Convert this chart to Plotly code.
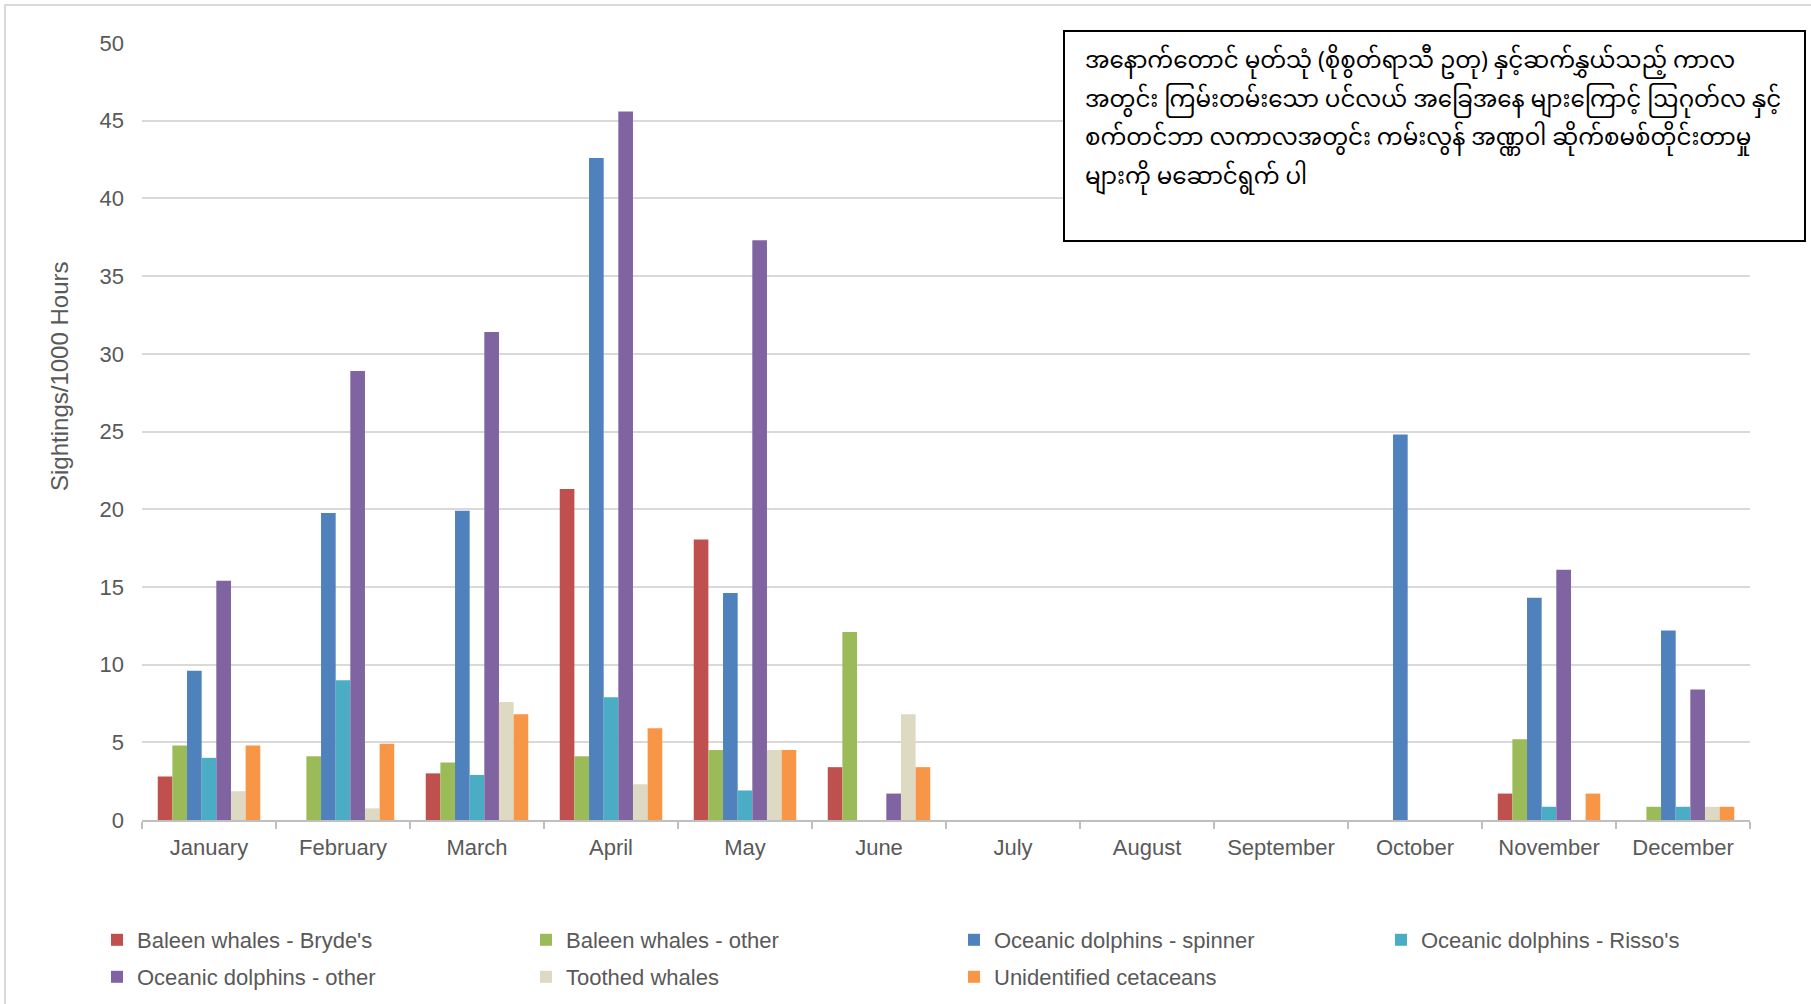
import plotly.graph_objects as go

# Monthly sighting rates (sightings per 1000 survey hours)
months = ["January", "February", "March", "April", "May", "June",
          "July", "August", "September", "October", "November", "December"]

brydes = [2.8, 0, 3.0, 21.3, 18.05, 3.4, None, None, None, 0, 1.7, 0]
baleen_other = [4.8, 4.1, 3.7, 4.1, 4.5, 12.1, None, None, None, 0, 5.2, 0.85]
spinner = [9.6, 19.75, 19.9, 42.6, 14.6, 0, None, None, None, 24.8, 14.3, 12.2]
rissos = [4.0, 9.0, 2.9, 7.9, 1.9, 0, None, None, None, 0, 0.85, 0.85]
dolphins_other = [15.4, 28.9, 31.4, 45.6, 37.3, 1.7, None, None, None, 0, 16.1, 8.4]
toothed = [1.85, 0.75, 7.6, 2.3, 4.5, 6.8, None, None, None, 0, 0, 0.85]
unidentified = [4.8, 4.9, 6.8, 5.9, 4.5, 3.4, None, None, None, 0, 1.7, 0.85]

series_names = ["Baleen whales - Bryde's", "Baleen whales - other",
                "Oceanic dolphins - spinner", "Oceanic dolphins - Risso's",
                "Oceanic dolphins - other", "Toothed whales",
                "Unidentified cetaceans"]
series_values = [brydes, baleen_other, spinner, rissos,
                 dolphins_other, toothed, unidentified]
colors = ["#C0504D", "#9BBB59", "#4F81BD", "#4BACC6",
          "#8064A2", "#DDD9C3", "#F79646"]

y_ticks = [0, 5, 10, 15, 20, 25, 30, 35, 40, 45, 50]

note_lines = [
    "အနောက်တောင် မုတ်သုံ (စိုစွတ်ရာသီ ဥတု) နှင့်ဆက်နွှယ်သည့် ကာလ",
    "အတွင်း ကြမ်းတမ်းသော ပင်လယ် အခြေအနေ များကြောင့် ဩဂုတ်လ နှင့်",
    "စက်တင်ဘာ လကာလအတွင်း ကမ်းလွန် အဏ္ဏဝါ ဆိုက်စမစ်တိုင်းတာမှု",
    "များကို မဆောင်ရွက် ပါ",
]

# page geometry (pixels)
W, H = 1811, 1004
PL, PR, PT, PB = 142, 1750, 43, 820


def px(x):
    return (x - PL) / (PR - PL)


def py(y):
    return (PB - y) / (PB - PT)


TEXT = "#595959"
FONT = "Liberation Sans, Arial, sans-serif"

# legend grid: 4 columns x 2 rows, filled row by row
legend_cols = [137, 566, 994, 1421]
legend_rows = [940, 977]

fig = go.Figure()
legends = {}
for i, (name, vals, col) in enumerate(zip(series_names, series_values, colors)):
    key = "legend" if i == 0 else f"legend{i + 1}"
    fig.add_trace(go.Bar(
        x=months, y=vals, name=name,
        marker=dict(color=col, line=dict(width=0)),
        legend=key,
    ))
    legends[key] = dict(
        x=px(legend_cols[i % 4] - 40), y=py(legend_rows[i // 4]),
        xanchor="left", yanchor="middle", orientation="h",
        font=dict(family=FONT, size=22, color=TEXT),
        bgcolor="rgba(0,0,0,0)", itemwidth=30,
    )

# note box with one annotation per text line
note_box = dict(
    type="rect", xref="paper", yref="paper",
    x0=px(1064), y0=py(241), x1=px(1805), y1=py(31),
    line=dict(color="black", width=2), fillcolor="white", layer="above",
)
note_y = [63, 102, 140, 179]
annotations = [
    dict(xref="paper", yref="paper", x=px(1083), y=py(yy),
         xanchor="left", yanchor="middle", text=line, showarrow=False,
         font=dict(family="Noto Sans Myanmar, Noto Sans, sans-serif",
                   size=23, color="black"))
    for line, yy in zip(note_lines, note_y)
]
annotations.append(dict(
    xref="paper", yref="paper", x=px(60), y=py(377),
    xanchor="center", yanchor="middle", textangle=-90,
    text="Sightings/1000 Hours", showarrow=False,
    font=dict(family=FONT, size=24, color=TEXT),
))

fig.update_layout(
    width=W, height=H,
    margin=dict(l=PL, r=W - PR, t=PT, b=H - PB, autoexpand=False),
    paper_bgcolor="white", plot_bgcolor="white",
    barmode="group", bargap=0.235, bargroupgap=0,
    font=dict(family=FONT, color=TEXT),
    showlegend=True,
    xaxis=dict(
        type="category", range=[-0.5, 11.5],
        showline=True, linecolor="#BFBFBF", linewidth=1.5,
        ticks="outside", tickson="boundaries", ticklen=7,
        tickcolor="#BFBFBF", tickwidth=1.5,
        tickfont=dict(family=FONT, size=22, color=TEXT),
        ticklabelstandoff=7,
        showgrid=False, zeroline=False,
    ),
    yaxis=dict(
        range=[0, 50], tickvals=y_ticks,
        showgrid=True, gridcolor="#D9D9D9", gridwidth=1.5,
        zeroline=False, showline=False,
        tickfont=dict(family=FONT, size=22, color=TEXT),
        ticklabelstandoff=17,
    ),
    annotations=annotations,
    shapes=[
        dict(type="rect", xref="paper", yref="paper",
             x0=px(5), y0=py(1012), x1=px(1820), y1=py(5),
             line=dict(color="#D9D9D9", width=2), layer="below"),
        note_box,
    ],
    **legends,
)

fig.write_html("out.html")
